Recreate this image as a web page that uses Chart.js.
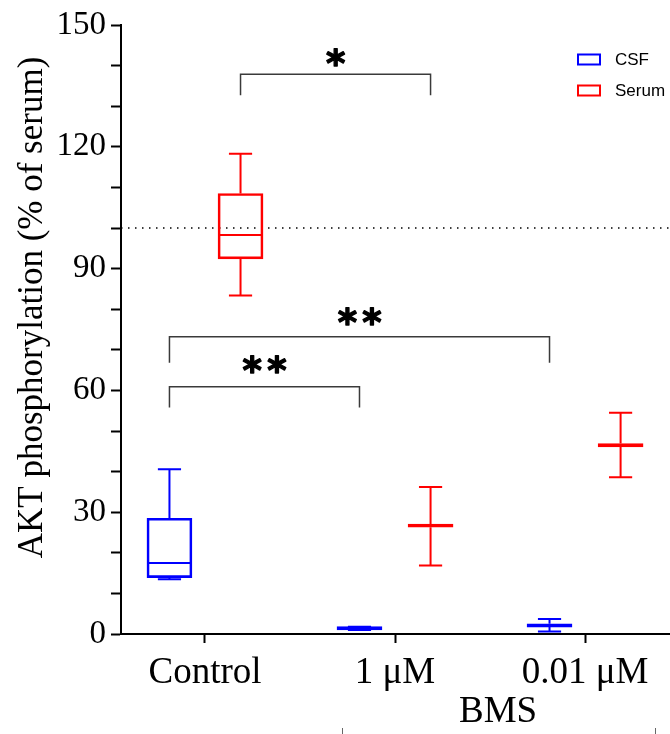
<!DOCTYPE html>
<html><head><meta charset="utf-8">
<script src="https://cdn.jsdelivr.net/npm/chart.js@4/dist/chart.umd.min.js"></script>
<style>html,body{margin:0;padding:0;background:#fff;}#wrap{width:670px;height:734px;position:relative;}</style>
</head><body><div id="wrap"><canvas id="c" width="670" height="734"></canvas></div>
<script>
// ---- data ----
const categories = ['Control', '1 μM', '0.01 μM'];
const groupLabel = 'BMS';
const yTitle = 'AKT phosphorylation (% of serum)';
const seriesNames = ['CSF', 'Serum'];
const seriesColors = ['#0000ff', '#ff0000'];
const csfMin    = [13.5, 1.0, 0.6];
const csfQ1     = [13.9, 1.0, 1.7];
const csfMedian = [17.5, 1.4, 2.1];
const csfQ3     = [28.5, 1.8, 2.5];
const csfMax    = [40.6, 1.8, 3.7];
const serumMin    = [83.4, 16.9, 38.6];
const serumQ1     = [92.4, 26.3, 46.1];
const serumMedian = [98.3, 26.7, 46.5];
const serumQ3     = [108.5, 27.1, 46.9];
const serumMax    = [118.3, 36.2, 54.5];
const yTicks = [0, 30, 60, 90, 120, 150];
const referenceLevel = 100;
// significance brackets (group index + series index at each end)
const bracketFromGroup  = [0, 0, 0];
const bracketFromSeries = [1, 0, 0];
const bracketToGroup    = [1, 2, 1];
const bracketToSeries   = [1, 0, 0];
const bracketTop   = [137.9, 73.2, 60.9];
const bracketFoot  = [132.7, 66.8, 55.8];
const bracketLabel = ['*', '**', '**'];
const bracketLabelY = [142.0, 78.4, 66.4];
// ends of the (cropped) BMS group bracket below the axis, in category units
const groupBracketEnds = [0.721, 2.368];

// ---- geometry helpers (positions, not data) ----
const seriesOffset = 0.187;      // category units
const capHalf = 0.061;
const medHalf = 0.116;
const xMin = -0.442, xMax = 2.447;
const xPos = (g, s) => g + (s === 0 ? -seriesOffset : seriesOffset);

function boxData(q1, q3, s) {
  return categories.map((c, i) => ({x: xPos(i, s), y: [q1[i], q3[i]]}));
}
function whiskerData(mn, q1, med, q3, mx, s) {
  const pts = [];
  categories.forEach((c, i) => {
    const x = xPos(i, s);
    pts.push({x, y: q3[i]}, {x, y: mx[i]}, {x, y: null});
    pts.push({x: x - capHalf, y: mx[i]}, {x: x + capHalf, y: mx[i]}, {x, y: null});
    pts.push({x, y: q1[i]}, {x, y: mn[i]}, {x, y: null});
    pts.push({x: x - capHalf, y: mn[i]}, {x: x + capHalf, y: mn[i]}, {x, y: null});
    pts.push({x: x - medHalf, y: med[i]}, {x: x + medHalf, y: med[i]}, {x, y: null});
  });
  return pts;
}
function bracketData() {
  const pts = [];
  bracketTop.forEach((t, k) => {
    const a = xPos(bracketFromGroup[k], bracketFromSeries[k]);
    const b = xPos(bracketToGroup[k], bracketToSeries[k]);
    pts.push({x: a, y: bracketFoot[k]}, {x: a, y: t}, {x: b, y: t}, {x: b, y: bracketFoot[k]}, {x: b, y: null});
  });
  return pts;
}

const lineCommon = {type: 'line', pointRadius: 0, spanGaps: false, fill: false, tension: 0, borderCapStyle: 'butt', borderJoinStyle: 'miter', order: 1};

const annotations = {
  id: 'annotations',
  afterDatasetsDraw(chart) {
    const ctx = chart.ctx, xs = chart.scales.x, ys = chart.scales.y;
    ctx.save();
    ctx.fillStyle = '#000';
    ctx.strokeStyle = '#000';
    ctx.lineWidth = 1.3;
    ctx.lineJoin = 'round';
    ctx.font = 'bold 37px "DejaVu Sans"';
    ctx.textAlign = 'left';
    ctx.textBaseline = 'alphabetic';
    const m = ctx.measureText('*');
    const gw = m.actualBoundingBoxRight + m.actualBoundingBoxLeft;
    bracketLabel.forEach((lab, k) => {
      const a = xPos(bracketFromGroup[k], bracketFromSeries[k]);
      const b = xPos(bracketToGroup[k], bracketToSeries[k]);
      const cx = xs.getPixelForValue((a + b) / 2);
      const cy = ys.getPixelForValue(bracketLabelY[k]);
      const n = lab.length, step = 24.7;
      for (let j = 0; j < n; j++) {
        const sx = cx + (j - (n - 1) / 2) * step;
        const base = cy - (m.actualBoundingBoxDescent - m.actualBoundingBoxAscent) / 2;
        const px = sx - gw / 2 + m.actualBoundingBoxLeft;
        ctx.fillText('*', px, base);
        ctx.strokeText('*', px, base);
      }
    });
    ctx.restore();
  },
  afterDraw(chart) {
    const ctx = chart.ctx, xs = chart.scales.x, ca = chart.chartArea;
    ctx.save();
    ctx.font = '17px "Liberation Sans"';
    ctx.textAlign = 'left';
    ctx.textBaseline = 'middle';
    seriesNames.forEach((name, k) => {
      const bx = ca.right - 92, by = ca.top + 29.5 + k * 31;
      ctx.strokeStyle = seriesColors[k];
      ctx.lineWidth = 2;
      ctx.strokeRect(bx, by, 22, 10);
      ctx.fillStyle = '#000';
      ctx.fillText(name, bx + 37, by + 5.5);
    });
    ctx.save();
    ctx.font = '35px "Liberation Serif"';
    ctx.fillStyle = '#000';
    ctx.textAlign = 'center';
    ctx.textBaseline = 'alphabetic';
    ctx.translate(42, (ca.top + ca.bottom) / 2 - 22);
    ctx.rotate(-Math.PI / 2);
    ctx.fillText(yTitle, 0, 0);
    ctx.restore();
    ctx.font = '37px "Liberation Serif"';
    ctx.fillStyle = '#000';
    ctx.textAlign = 'center';
    ctx.textBaseline = 'alphabetic';
    ctx.fillText(groupLabel, xs.getPixelForValue(1.5) + 8, ca.bottom + 88);
    // cropped group bracket feet at the bottom edge
    ctx.strokeStyle = '#666';
    ctx.lineWidth = 1;
    groupBracketEnds.forEach(v => {
      const px = Math.round(xs.getPixelForValue(v)) + 0.5;
      ctx.beginPath();
      ctx.moveTo(px, chart.height - 6);
      ctx.lineTo(px, chart.height);
      ctx.stroke();
    });
    ctx.restore();
  }
};

new Chart(document.getElementById('c'), {
  data: {
    datasets: [
      {type: 'bar', label: seriesNames[0], data: boxData(csfQ1, csfQ3, 0), borderColor: seriesColors[0], backgroundColor: 'rgba(0,0,0,0)', borderWidth: 2, borderSkipped: false, barThickness: 45, grouped: false, order: 2},
      {type: 'bar', label: seriesNames[1], data: boxData(serumQ1, serumQ3, 1), borderColor: seriesColors[1], backgroundColor: 'rgba(0,0,0,0)', borderWidth: 2, borderSkipped: false, barThickness: 45, grouped: false, order: 2},
      {...lineCommon, label: 'CSF whiskers', data: whiskerData(csfMin, csfQ1, csfMedian, csfQ3, csfMax, 0), borderColor: seriesColors[0], borderWidth: 2},
      {...lineCommon, label: 'Serum whiskers', data: whiskerData(serumMin, serumQ1, serumMedian, serumQ3, serumMax, 1), borderColor: seriesColors[1], borderWidth: 2},
      {...lineCommon, label: 'reference', data: [{x: xMin, y: referenceLevel}, {x: xMax, y: referenceLevel}], borderColor: '#000', borderWidth: 1.5, borderDash: [1.5, 5.5], order: 3},
      {...lineCommon, label: 'brackets', data: bracketData(), borderColor: '#3a3a3a', borderWidth: 1.5}
    ]
  },
  options: {
    responsive: false,
    animation: false,
    events: [],
    layout: {padding: {top: 25, right: 0, bottom: 0, left: 0}},
    plugins: {legend: {display: false}, tooltip: {enabled: false}, title: {display: false}},
    scales: {
      x: {
        type: 'linear', position: 'bottom', min: xMin, max: xMax, offset: false,
        afterBuildTicks: s => { s.ticks = categories.map((c, i) => ({value: i})); },
        afterFit: s => { s.height = 100; },
        ticks: {callback: v => categories[v] ?? '', font: {family: 'Liberation Serif', size: 37}, color: '#000', padding: 8, maxRotation: 0, autoSkip: false},
        grid: {offset: false, drawOnChartArea: false, tickLength: 9, tickWidth: 2, tickColor: '#000'},
        border: {color: '#000', width: 2}
      },
      y: {
        type: 'linear', position: 'left', min: 0, max: 150,
        afterFit: s => { s.width = 121; },
        ticks: {stepSize: 10, callback: v => yTicks.includes(v) ? String(v) : '', font: {family: 'Liberation Serif', size: 33}, color: '#000', padding: 5, autoSkip: false},
        grid: {drawOnChartArea: false, tickLength: 10, tickWidth: 2, tickColor: '#000'},
        border: {color: '#000', width: 2}
      }
    }
  },
  plugins: [annotations]
});
</script></body></html>
